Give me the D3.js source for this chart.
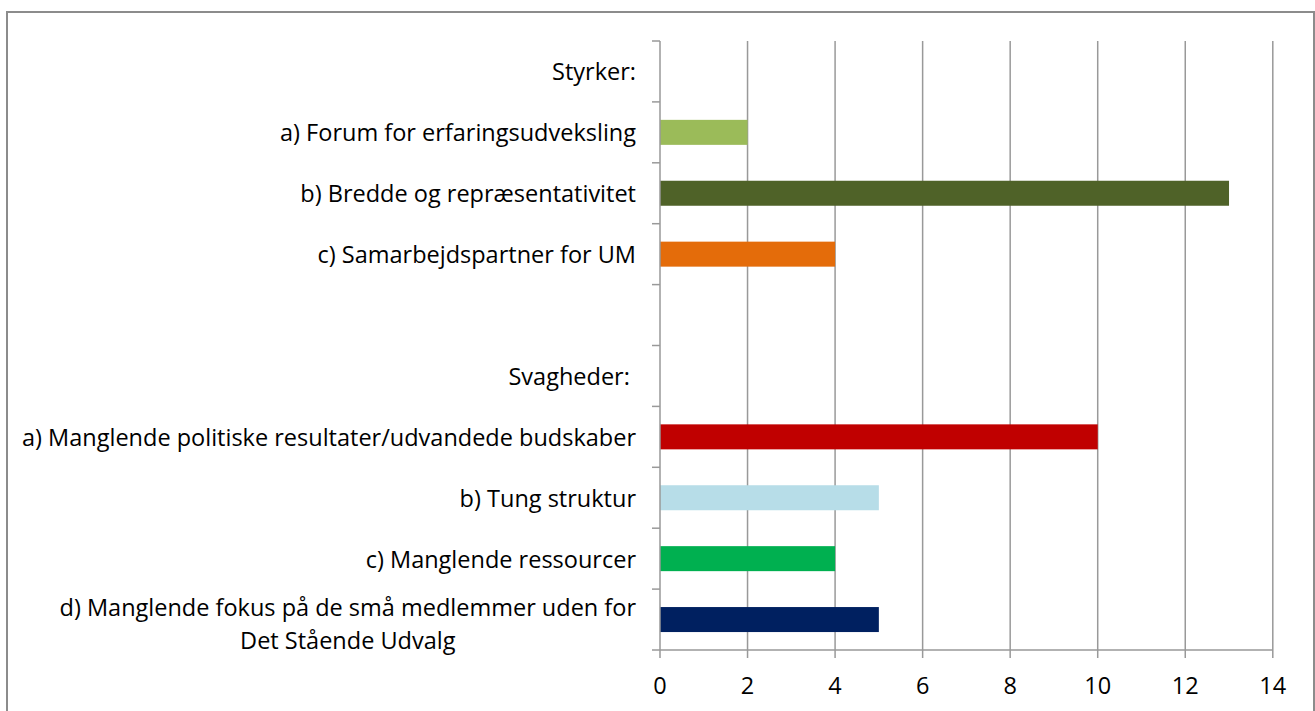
<!DOCTYPE html>
<html>
<head>
<meta charset="utf-8">
<script src="https://cdn.jsdelivr.net/npm/d3@7"></script>
<style>
  body { margin: 0; background: #fff; }
  text { font-family: "Open Sans", "Noto Sans", sans-serif; fill: #000; white-space: pre; }
</style>
</head>
<body>
<div id="chart"></div>
<script>
var WIDTH = 1315
var HEIGHT = 711

// data
var categories = [
    "Styrker:",
    "a) Forum for erfaringsudveksling",
    "b) Bredde og repræsentativitet",
    "c) Samarbejdspartner for UM",
    "",
    "Svagheder: ",
    "a) Manglende politiske resultater/udvandede budskaber",
    "b) Tung struktur",
    "c) Manglende ressourcer",
    "d) Manglende fokus på de små medlemmer uden for\nDet Stående Udvalg"
];
var values = [null, 2, 13, 4, null, null, 10, 5, 4, 5];
var barColors = [null, "#9BBB59", "#4F6228", "#E46C0A", null, null, "#C00000", "#B7DDE8", "#00B050", "#002060"];
var xTicks = [0, 2, 4, 6, 8, 10, 12, 14];

var margin = { left: 660, top: 41, right: 42, bottom: 61 };

const svg = d3.select('#chart').append('svg')
    .attr('width', WIDTH)
    .attr('height', HEIGHT);

// outer frame
svg.append('rect')
    .attr('x', 7).attr('y', 12)
    .attr('width', 1307).attr('height', 730)
    .attr('fill', 'none')
    .attr('stroke', '#8c8c8c')
    .attr('stroke-width', 2);

let xScale = d3.scaleLinear()
    .domain([0, 14])
    .range([margin.left, margin.left + 612.8]);

let yScale = d3.scaleBand()
    .domain(d3.range(categories.length))
    .range([margin.top, HEIGHT - margin.bottom]);

var g = svg.append('g');

// vertical gridlines
g.selectAll('.grid')
    .data(xTicks.filter(t => t > 0))
    .enter()
    .append('line')
    .attr('class', 'grid')
    .attr('x1', d => xScale(d)).attr('x2', d => xScale(d))
    .attr('y1', margin.top).attr('y2', HEIGHT - margin.bottom)
    .attr('stroke', '#999')
    .attr('stroke-width', 1.5);

// bars
var barH = 25;
g.selectAll('.bar')
    .data(values.map((v, i) => ({ v: v, i: i })).filter(d => d.v != null))
    .enter()
    .append('rect')
    .attr('class', 'bar')
    .attr('x', xScale(0))
    .attr('y', d => yScale(d.i) + yScale.bandwidth() / 2 - barH / 2)
    .attr('width', d => xScale(d.v) - xScale(0))
    .attr('height', barH)
    .attr('fill', d => barColors[d.i]);

// left axis line and category ticks
var yBottom = HEIGHT - margin.bottom;
g.append('line')
    .attr('x1', xScale(0)).attr('x2', xScale(0))
    .attr('y1', margin.top).attr('y2', yBottom)
    .attr('stroke', '#999').attr('stroke-width', 1.5);
var bounds = d3.range(categories.length + 1).map(i => margin.top + i * yScale.step());
g.selectAll('.ytick')
    .data(bounds)
    .enter()
    .append('line')
    .attr('x1', xScale(0) - 8).attr('x2', xScale(0))
    .attr('y1', d => d).attr('y2', d => d)
    .attr('stroke', '#999').attr('stroke-width', 1.5);

// bottom axis
g.append('line')
    .attr('x1', xScale(0)).attr('x2', xScale(14))
    .attr('y1', yBottom).attr('y2', yBottom)
    .attr('stroke', '#999').attr('stroke-width', 1.5);
g.selectAll('.xtick')
    .data(xTicks)
    .enter()
    .append('line')
    .attr('x1', d => xScale(d)).attr('x2', d => xScale(d))
    .attr('y1', yBottom).attr('y2', yBottom + 8)
    .attr('stroke', '#999').attr('stroke-width', 1.5);

var fontSize = 23.5;

g.selectAll('.xlabel')
    .data(xTicks)
    .enter()
    .append('text')
    .attr('class', 'xlabel')
    .attr('x', d => xScale(d))
    .attr('y', yBottom + 44)
    .attr('text-anchor', 'middle')
    .style('font-size', fontSize + 'px')
    .text(d => d);

// category labels, centred multi-line like the original
var labelRight = 636;
var lineH = 33;
categories.forEach((c, i) => {
    if (!c) return;
    var lines = c.split('\n');
    var t = g.append('text')
        .style('font-size', fontSize + 'px')
        .attr('dominant-baseline', 'central');
    var cy = yScale(i) + yScale.bandwidth() / 2 + (lines.length > 1 ? 4 : 0);
    lines.forEach((l, k) => {
        t.append('tspan')
            .attr('y', cy + (k - (lines.length - 1) / 2) * lineH)
            .text(l);
    });
    // measure widest line, then right-align block and centre lines inside it
    var spans = t.selectAll('tspan').nodes();
    var w = d3.max(spans, s => s.getComputedTextLength());
    spans.forEach(s => {
        var sw = s.getComputedTextLength();
        d3.select(s).attr('x', labelRight - w + (w - sw) / 2);
    });
});
</script>
</body>
</html>
